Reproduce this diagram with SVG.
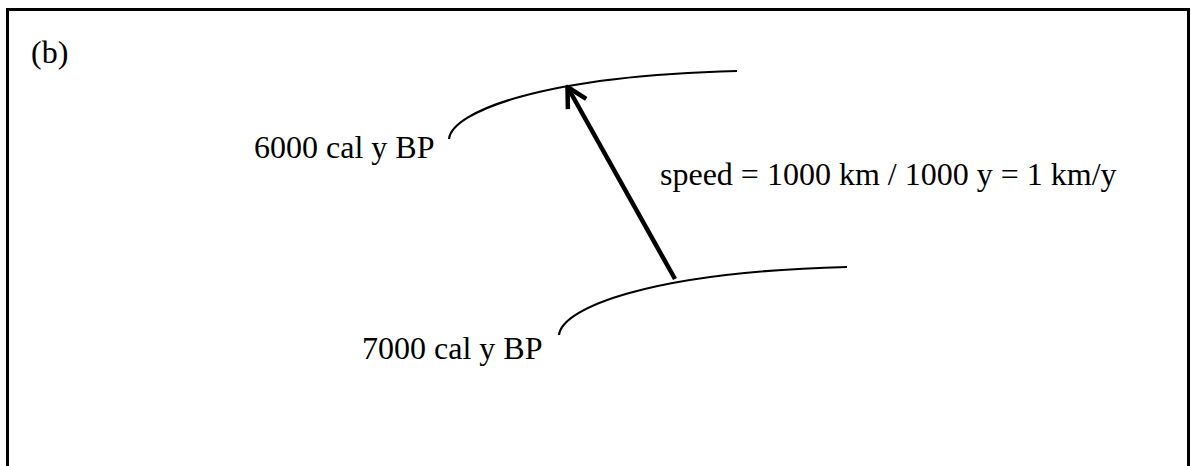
<svg xmlns="http://www.w3.org/2000/svg" width="1191" height="466" viewBox="0 0 1191 466">
  <style>
    .lbl { font-family: "Liberation Serif", "Times New Roman", serif; font-size: 32px; fill: #000; }
    .front { fill: none; stroke: #000; stroke-width: 2.2; }
    .move { fill: none; stroke: #000; stroke-width: 4.5; }
  </style>
  <defs>
    <marker id="chevron" markerUnits="userSpaceOnUse" markerWidth="40" markerHeight="40" viewBox="-30 -20 40 40" refX="0" refY="0" orient="auto">
      <path d="M-19.5,-10.5 L0,0 L-19.5,10.5" fill="none" stroke="#000" stroke-width="4.5" stroke-linejoin="round" stroke-linecap="butt"/>
    </marker>
    <path id="frontShape" d="M449,139 C452,112 540,76 737,71"/>
  </defs>

  <rect x="0" y="0" width="1191" height="466" fill="#fff"/>
  <!-- panel frame, bottom edge runs off the page -->
  <rect x="7.5" y="9.5" width="1181" height="480" fill="none" stroke="#000" stroke-width="3"/>

  <g id="panel-label">
    <text class="lbl" x="31" y="63">(b)</text>
  </g>

  <g id="front-6000">
    <use href="#frontShape" class="front"/>
    <text class="lbl" x="254" y="158">6000 cal y BP</text>
  </g>

  <g id="front-7000">
    <use href="#frontShape" class="front" transform="translate(110,196)"/>
    <text class="lbl" x="362" y="359">7000 cal y BP</text>
  </g>

  <g id="speed-note">
    <text class="lbl" x="660" y="185">speed = 1000 km / 1000 y = 1 km/y</text>
  </g>

  <g id="connectors">
    <line class="move" x1="675" y1="279" x2="567.5" y2="87" marker-end="url(#chevron)"/>
  </g>
</svg>
